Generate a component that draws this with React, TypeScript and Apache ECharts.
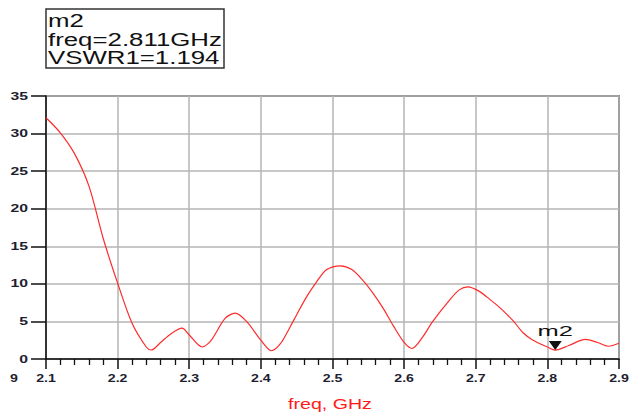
import React, { useEffect, useRef } from "react";
import * as echarts from "echarts";

const freq = [2.1, 2.12, 2.14, 2.16, 2.18, 2.2, 2.22, 2.24, 2.247, 2.26, 2.275, 2.29, 2.3, 2.318, 2.33, 2.35, 2.364, 2.38, 2.4, 2.415, 2.427, 2.441, 2.45, 2.464, 2.478, 2.492, 2.511, 2.527, 2.543, 2.557, 2.571, 2.585, 2.6, 2.611, 2.625, 2.64, 2.664, 2.677, 2.689, 2.705, 2.72, 2.734, 2.752, 2.766, 2.78, 2.8, 2.811, 2.83, 2.853, 2.87, 2.885, 2.9];
const vswr = [32.1, 30.1, 27.3, 23.0, 16.0, 10.1, 4.8, 1.6, 1.2, 2.2, 3.4, 4.1, 3.2, 1.6, 2.4, 5.4, 6.1, 5.0, 2.5, 1.1, 2.0, 4.3, 5.9, 8.3, 10.3, 11.9, 12.4, 11.9, 10.4, 8.7, 6.7, 4.4, 2.2, 1.4, 2.8, 5.0, 7.9, 9.2, 9.6, 9.0, 7.9, 6.8, 5.1, 3.5, 2.5, 1.6, 1.194, 1.8, 2.6, 2.2, 1.7, 2.1];
const xTicks = [2.1, 2.2, 2.3, 2.4, 2.5, 2.6, 2.7, 2.8, 2.9];
const xTickLabels = ["2.1", "2.2", "2.3", "2.4", "2.5", "2.6", "2.7", "2.8", "2.9"];
const yTicks = [0, 5, 10, 15, 20, 25, 30, 35];
const yTickLabels = ["0", "5", "10", "15", "20", "25", "30", "35"];
const markerName = "m2";
const markerFreq = 2.811;
const markerValue = 1.194;
const legendLines = ["m2", "freq=2.811GHz", "VSWR1=1.194"];
const xAxisTitle = "freq, GHz";
const strayLabel = "9";

export default function App() {
  const ref = useRef<HTMLDivElement>(null);
  useEffect(() => {
    if (!ref.current) return;
    const chart = echarts.init(ref.current, null, { renderer: "svg" });
    const font = "'Liberation Sans', Arial, sans-serif";
    const labelColor = "#1e1e30";
    chart.setOption({
      animation: false,
      backgroundColor: "#fff",
      grid: {
        left: 46, right: 25, top: 96, bottom: 58,
        show: true, borderColor: "#333", borderWidth: 1.5, backgroundColor: "transparent",
      },
      xAxis: {
        type: "value", min: 2.1, max: 2.9, interval: 0.1,
        axisLine: { show: true, onZero: false, lineStyle: { color: "#111", width: 1.5 } },
        axisTick: { show: true, inside: false, length: 10, lineStyle: { color: "#111", width: 1.5 } },
        minorTick: { show: true, splitNumber: 5, length: 6, lineStyle: { color: "#111", width: 1.3 } },
        splitLine: { show: true, lineStyle: { color: "#b4b4b4", width: 1.5 } },
        axisLabel: { show: false },
      },
      yAxis: {
        type: "value", min: 0, max: 35, interval: 5,
        axisLine: { show: true, lineStyle: { color: "#111", width: 1.5 } },
        axisTick: { show: true, inside: false, length: 15, lineStyle: { color: "#111", width: 1.5 } },
        splitLine: { show: true, lineStyle: { color: "#b4b4b4", width: 1.5 } },
        axisLabel: { show: false },
      },
      series: [
        {
          type: "line",
          data: freq.map((f, i) => [f, vswr[i]]),
          smooth: 0.3,
          showSymbol: false,
          lineStyle: { color: "#ff2a2a", width: 1.2 },
          markPoint: {
            data: [{ coord: [markerFreq, markerValue], name: markerName }],
            symbol: "triangle",
            symbolRotate: 180,
            symbolSize: [13, 9],
            symbolOffset: [0, -4.5],
            itemStyle: { color: "#111" },
            label: { show: false },
          },
        },
      ],
    });

    const toPx = (x: number, y: number) => chart.convertToPixel({ gridIndex: 0 }, [x, y]) as number[];
    const graphics: any[] = [];
    xTicks.forEach((t, i) => {
      const p = toPx(t, 0);
      graphics.push({
        type: "text", x: p[0], y: p[1] + 19.5, scaleX: 1.35,
        style: {
          text: xTickLabels[i], fontSize: 10.5, fontWeight: "bold", fontFamily: font, fill: labelColor,
          textAlign: "center", textVerticalAlign: "middle",
        },
      });
    });
    yTicks.forEach((t, i) => {
      const p = toPx(2.1, t);
      graphics.push({
        type: "text", x: p[0] - 18, y: p[1], scaleX: 1.5,
        style: {
          text: yTickLabels[i], fontSize: 10.5, fontWeight: "bold", fontFamily: font, fill: labelColor,
          textAlign: "right", textVerticalAlign: "middle",
        },
      });
    });
    const mp = toPx(markerFreq, markerValue);
    graphics.push({
      type: "text", x: mp[0], y: mp[1] - 19, scaleX: 1.7,
      style: {
        text: markerName, fontSize: 15, fontFamily: font, fill: "#111",
        textAlign: "center", textVerticalAlign: "middle",
      },
    });
    const p0 = toPx(2.1, 0);
    graphics.push({
      type: "text", x: p0[0] - 32, y: p0[1] + 19.5, scaleX: 1.35,
      style: {
        text: strayLabel, fontSize: 10.5, fontWeight: "bold", fontFamily: font, fill: labelColor,
        textAlign: "center", textVerticalAlign: "middle",
      },
    });
    graphics.push({
      type: "rect", shape: { x: 46, y: 9, width: 178, height: 59 },
      style: { fill: "#fff", stroke: "#333", lineWidth: 1.5 },
    });
    legendLines.forEach((t, i) => {
      graphics.push({
        type: "text", x: 48, y: 11 + i * 18.5, scaleX: 1.36,
        style: { text: t, fontSize: 19, fontFamily: font, fill: "#111", textVerticalAlign: "top" },
      });
    });
    graphics.push({
      type: "text", x: 330, y: 404, scaleX: 1.4,
      style: {
        text: xAxisTitle, fontSize: 14, fontFamily: font, fill: "#ff1a1a",
        textAlign: "center", textVerticalAlign: "middle",
      },
    });
    chart.setOption({ graphic: graphics });
    return () => chart.dispose();
  }, []);
  return <div ref={ref} style={{ position: "fixed", left: 0, top: 0, width: 644, height: 417 }} />;
}
